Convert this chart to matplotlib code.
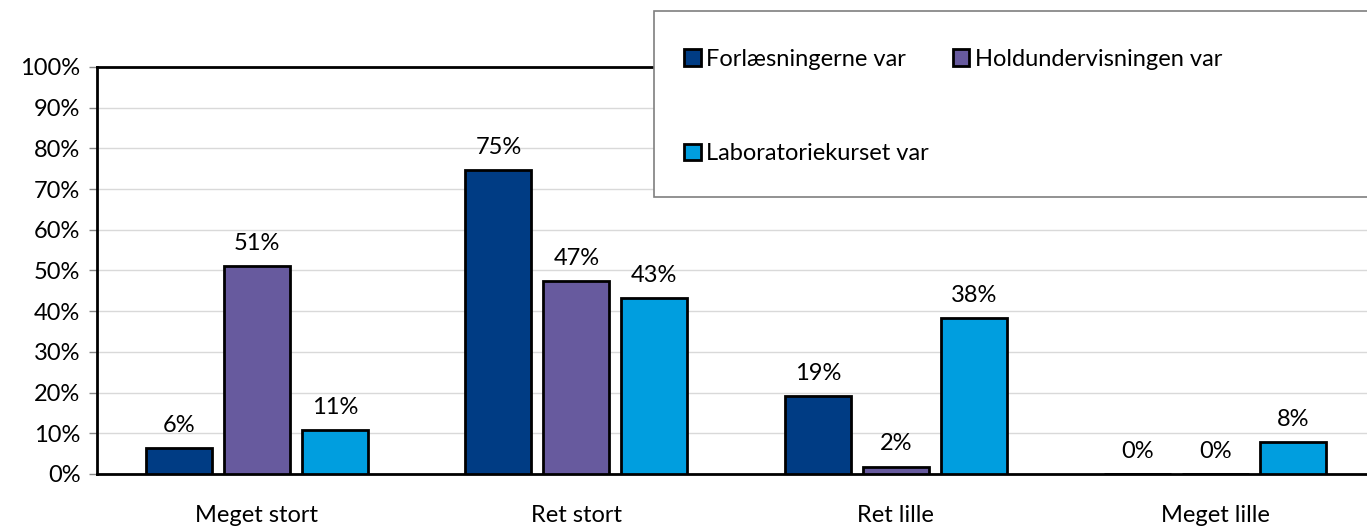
import numpy as np
import matplotlib
matplotlib.use("Agg")
from matplotlib import pyplot as plt
from matplotlib.patches import Rectangle
from matplotlib.ticker import FuncFormatter

categories = ["Meget stort", "Ret stort", "Ret lille", "Meget lille"]
series = ["Forlæsningerne var", "Holdundervisningen var", "Laboratoriekurset var"]
forl = [6.4, 74.6, 19.2, 0.0]
hold = [51.0, 47.3, 1.8, 0.0]
lab = [10.8, 43.2, 38.3, 7.9]
labels = [["6%", "75%", "19%", "0%"],
          ["51%", "47%", "2%", "0%"],
          ["11%", "43%", "38%", "8%"]]
colors = ["#003C84", "#675A9E", "#009EDF"]

plt.rcParams["font.family"] = ["Lato", "DejaVu Sans"]
FS = 17

fig = plt.figure(figsize=(13.67, 5.28), dpi=100)
ax = fig.add_axes([0.071, 0.1023, 0.935, 0.771])

x = np.arange(len(categories))
w = 0.207
off = 0.244
handles = []
for k, vals in enumerate([forl, hold, lab]):
    pos = x + (k - 1) * off
    bars = ax.bar(pos, vals, w, color=colors[k], edgecolor="black", linewidth=2,
                  label=series[k], zorder=3)
    handles.append(bars)
    for p, v, t in zip(pos, vals, labels[k]):
        ax.text(p, v + 3.0, t, ha="center", va="bottom", fontsize=FS)

ax.set_xlim(-0.5, 3.5)
ax.set_ylim(0, 100)
ax.set_yticks(np.arange(0, 101, 10))
ax.yaxis.set_major_formatter(FuncFormatter(lambda v, _: f"{v:.0f}%"))
ax.set_xticks(x)
ax.set_xticklabels(categories)
ax.tick_params(axis="x", length=0, pad=22, labelsize=FS)
ax.tick_params(axis="y", length=6, width=1, color="#888888", labelsize=FS, pad=6)
ax.grid(axis="y", color="#d9d9d9", linewidth=1, zorder=0)
for s in ["left", "top", "right", "bottom"]:
    ax.spines[s].set_linewidth(2)
    ax.spines[s].set_color("black")

# legend frame drawn separately so it runs off the right edge like the original
fig.patches.append(Rectangle((654 / 1367, 1 - 197 / 528), 0.6, 186 / 528,
                             transform=fig.transFigure, facecolor="white",
                             edgecolor="#7f7f7f", linewidth=1.2, zorder=5))
order = [0, 2, 1]
leg = fig.legend([handles[i] for i in order], [series[i] for i in order],
                 loc="upper left", bbox_to_anchor=(684 / 1367, 1 - 49 / 528),
                 ncol=2, fontsize=FS, frameon=False,
                 handlelength=0.7, handleheight=0.7, handletextpad=0.25,
                 labelspacing=3.1, columnspacing=1.0, borderpad=0, borderaxespad=0)
leg.set_zorder(6)

fig.savefig("out.png", dpi=100)
